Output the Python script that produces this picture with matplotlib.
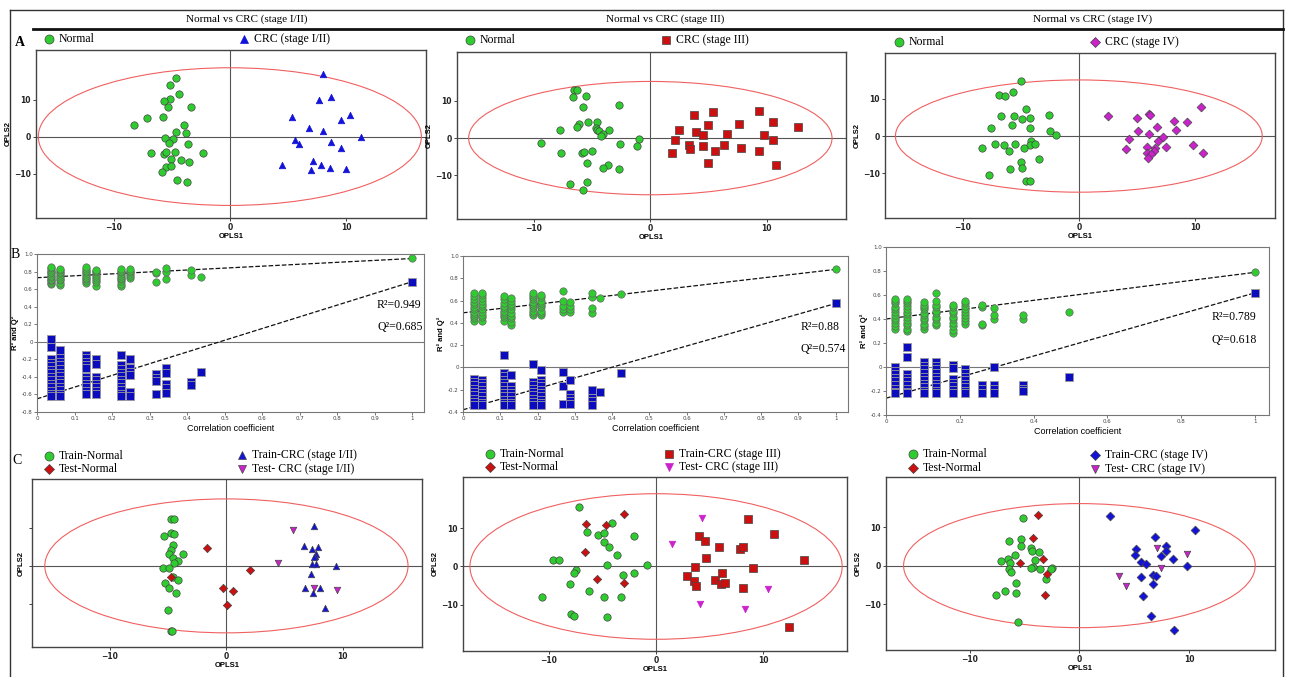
import numpy as np
import matplotlib.pyplot as plt
from matplotlib.patches import Ellipse
from matplotlib.lines import Line2D

W, H = 1291, 677

titles = ['Normal vs CRC (stage I/II)', 'Normal vs CRC (stage III)', 'Normal vs CRC (stage IV)']

# ---- A: OPLS-DA score plots (OPLS1, OPLS2) ----
a1_normal = np.array([[-4.6, 15.8], [-5.17, 14.0], [-4.37, 11.6], [-5.14, 10.2], [-5.66, 9.5], [-5.32, 8.0],
                      [-3.33, 8.0], [-7.10, 5.1], [-5.75, 5.4], [-8.25, 3.2], [-3.97, 3.2], [-4.68, 1.2],
                      [-3.82, 0.9], [-5.60, -0.3], [-4.94, -0.6], [-5.23, -1.6], [-3.62, -2.1], [-6.75, -4.4],
                      [-5.66, -4.6], [-5.46, -4.2], [-4.74, -4.1], [-2.30, -4.4], [-5.09, -6.1], [-4.17, -6.3],
                      [-3.56, -6.8], [-5.52, -8.2], [-5.11, -8.0], [-5.83, -9.6], [-4.57, -11.6], [-3.71, -12.3]])
a1_crc = np.array([[8.05, 16.8], [7.70, 9.9], [8.71, 10.8], [5.37, 5.4], [10.34, 5.8], [9.60, 4.5], [6.78, 2.4],
                   [7.99, 1.5], [11.26, 0.0], [5.60, -0.9], [5.95, -2.0], [8.68, -1.5], [9.54, -3.2], [7.18, -6.5],
                   [7.84, -7.6], [4.48, -7.8], [6.98, -9.1], [8.62, -8.6], [9.97, -8.7]])

a2_normal = np.array([[-6.57, 12.9], [-6.26, 12.8], [-6.63, 11.1], [-5.54, 11.4], [-5.80, 8.4], [-2.71, 8.9],
                      [-5.34, 4.3], [-4.54, 4.3], [-6.11, 3.7], [-6.29, 3.1], [-7.74, 2.2], [-4.69, 2.6],
                      [-4.57, 2.1], [-4.40, 1.8], [-4.06, 1.0], [-4.26, 0.5], [-3.57, 2.2], [-9.43, -1.4],
                      [-1.00, -0.3], [-1.17, -2.1], [-2.57, -1.7], [-7.66, -3.9], [-5.91, -4.1], [-5.69, -3.6],
                      [-5.00, -3.5], [-5.46, -6.6], [-3.63, -7.1], [-4.06, -8.0], [-2.71, -8.3], [-6.94, -12.4],
                      [-5.46, -11.9], [-5.80, -14.0]])
a2_crc = np.array([[3.71, 6.3], [5.37, 7.0], [9.29, 7.4], [2.43, 2.3], [4.91, 3.5], [7.60, 3.8], [10.49, 4.2],
                   [12.66, 2.9], [3.91, 1.7], [4.49, 0.8], [6.60, 1.1], [9.74, 0.8], [2.09, -0.4], [10.57, -0.4],
                   [3.31, -1.9], [3.43, -2.9], [4.54, -2.2], [6.31, -1.9], [7.77, -2.6], [5.57, -3.5],
                   [9.29, -3.4], [1.83, -3.9], [4.97, -6.7], [10.80, -7.3]])

a3_normal = np.array([[-4.97, 14.6], [-5.63, 11.8], [-6.84, 11.1], [-6.32, 10.8], [-4.57, 7.1], [-6.72, 5.4],
                      [-5.57, 5.3], [-4.94, 4.6], [-4.22, 4.9], [-2.56, 5.5], [-5.75, 2.9], [-7.61, 2.1],
                      [-4.22, 2.2], [-2.47, 1.4], [-1.93, 0.4], [-4.14, -1.2], [-7.24, -2.1], [-6.41, -2.5],
                      [-5.46, -2.2], [-4.22, -2.5], [-3.82, -2.2], [-8.36, -3.2], [-4.74, -3.3], [-5.98, -3.9],
                      [-3.45, -6.0], [-4.97, -7.0], [-5.89, -8.7], [-4.94, -8.5], [-7.73, -10.5], [-4.51, -12.0],
                      [-4.17, -12.0]])
a3_crc = np.array([[2.53, 5.4], [10.49, 7.8], [6.01, 6.0], [6.12, 5.7], [4.97, 4.8], [9.28, 3.8], [8.22, 3.9],
                   [6.70, 2.3], [5.08, 1.3], [8.33, 1.6], [6.03, 0.6], [7.21, -0.2], [4.28, -0.9], [6.81, -1.4],
                   [4.05, -3.4], [5.83, -2.9], [7.53, -2.9], [6.55, -3.2], [9.80, -2.3], [6.47, -3.9],
                   [5.83, -4.6], [6.21, -4.8], [10.72, -4.4], [5.92, -5.8]])

# ---- B: permutation tests ----
b1_x = [0.036, 0.060, 0.130, 0.156, 0.223, 0.249, 0.317, 0.343, 0.411, 0.437]
b1_r2 = [[0.66, 0.67, 0.69, 0.70, 0.72, 0.74, 0.75, 0.77, 0.79, 0.80, 0.82, 0.84, 0.85],
         [0.65, 0.67, 0.70, 0.72, 0.74, 0.76, 0.78, 0.80, 0.82, 0.83],
         [0.67, 0.69, 0.71, 0.73, 0.75, 0.77, 0.79, 0.81, 0.83, 0.85],
         [0.63, 0.68, 0.70, 0.73, 0.75, 0.77, 0.79, 0.81, 0.82],
         [0.63, 0.66, 0.69, 0.71, 0.73, 0.75, 0.77, 0.79, 0.81, 0.83],
         [0.73, 0.75, 0.77, 0.79, 0.81, 0.83],
         [0.68, 0.78, 0.79], [0.71, 0.80, 0.84], [0.76, 0.82], [0.74]]
b1_q2 = [[0.03, -0.06, -0.20, -0.24, -0.28, -0.32, -0.36, -0.40, -0.44, -0.48, -0.52, -0.56, -0.60, -0.62],
         [-0.09, -0.19, -0.23, -0.27, -0.31, -0.35, -0.39, -0.43, -0.47, -0.51, -0.55, -0.59, -0.62],
         [-0.15, -0.19, -0.23, -0.27, -0.30, -0.40, -0.44, -0.48, -0.52, -0.56, -0.60],
         [-0.20, -0.25, -0.40, -0.44, -0.48, -0.52, -0.56, -0.60],
         [-0.15, -0.27, -0.31, -0.35, -0.39, -0.43, -0.47, -0.51, -0.55, -0.59, -0.62],
         [-0.20, -0.30, -0.34, -0.38, -0.57, -0.62],
         [-0.37, -0.41, -0.45, -0.60], [-0.30, -0.35, -0.48, -0.53, -0.58], [-0.46, -0.49], [-0.34]]
b1_r2_line = [0.73, 0.949]
b1_q2_line = [-0.65, 0.685]

b2_x = [0.030, 0.050, 0.109, 0.129, 0.188, 0.209, 0.268, 0.288, 0.347, 0.367, 0.425]
b2_r2 = [[0.42, 0.44, 0.46, 0.48, 0.50, 0.52, 0.54, 0.57, 0.59, 0.61, 0.64, 0.67],
         [0.42, 0.45, 0.47, 0.50, 0.52, 0.55, 0.57, 0.60, 0.62, 0.65, 0.67],
         [0.42, 0.45, 0.47, 0.49, 0.51, 0.53, 0.55, 0.58, 0.61, 0.64],
         [0.38, 0.41, 0.44, 0.46, 0.49, 0.52, 0.55, 0.57, 0.60, 0.62],
         [0.47, 0.49, 0.51, 0.53, 0.55, 0.57, 0.59, 0.61, 0.63, 0.65, 0.67],
         [0.47, 0.49, 0.51, 0.54, 0.56, 0.58, 0.60, 0.63, 0.65],
         [0.50, 0.52, 0.55, 0.60, 0.69], [0.50, 0.52, 0.55, 0.59], [0.49, 0.53, 0.63, 0.67], [0.62], [0.66]]
b2_q2 = [[-0.10, -0.13, -0.16, -0.19, -0.22, -0.25, -0.28, -0.31, -0.34],
         [-0.11, -0.14, -0.17, -0.20, -0.23, -0.26, -0.29, -0.32, -0.34],
         [0.11, -0.05, -0.08, -0.11, -0.14, -0.17, -0.20, -0.23, -0.26, -0.29, -0.32, -0.34],
         [-0.07, -0.17, -0.20, -0.23, -0.26, -0.29, -0.32, -0.34],
         [0.03, -0.13, -0.16, -0.19, -0.22, -0.25, -0.28, -0.31, -0.34],
         [-0.02, -0.11, -0.14, -0.17, -0.20, -0.23, -0.26, -0.29, -0.32, -0.34],
         [-0.04, -0.17, -0.33], [-0.11, -0.24, -0.27, -0.30, -0.33], [-0.20, -0.27, -0.30, -0.34], [-0.22], [-0.05]]
b2_r2_line = [0.49, 0.88]
b2_q2_line = [-0.38, 0.574]

b3_x = [0.024, 0.056, 0.103, 0.135, 0.182, 0.215, 0.261, 0.293, 0.371, 0.496]
b3_r2 = [[0.32, 0.34, 0.37, 0.39, 0.41, 0.43, 0.46, 0.48, 0.50, 0.53, 0.55, 0.57],
         [0.30, 0.32, 0.35, 0.37, 0.39, 0.42, 0.44, 0.46, 0.48, 0.51, 0.53, 0.55, 0.57],
         [0.32, 0.34, 0.36, 0.39, 0.41, 0.43, 0.45, 0.48, 0.50, 0.52, 0.54],
         [0.35, 0.37, 0.40, 0.42, 0.45, 0.47, 0.50, 0.52, 0.55, 0.62],
         [0.28, 0.31, 0.34, 0.37, 0.40, 0.42, 0.45, 0.47, 0.50, 0.52],
         [0.36, 0.38, 0.41, 0.43, 0.46, 0.48, 0.51, 0.53, 0.55],
         [0.35, 0.36, 0.50, 0.52], [0.40, 0.43, 0.49], [0.40, 0.43], [0.46]]
b3_q2 = [[0.00, -0.03, -0.06, -0.09, -0.12, -0.15, -0.18, -0.21, -0.22],
         [0.17, 0.08, -0.06, -0.09, -0.12, -0.15, -0.18, -0.21, -0.22],
         [0.04, 0.01, -0.02, -0.05, -0.08, -0.11, -0.14, -0.17, -0.20, -0.22],
         [0.04, 0.01, -0.02, -0.05, -0.08, -0.11, -0.14, -0.17, -0.20, -0.22],
         [0.02, -0.01, -0.10, -0.13, -0.16, -0.19, -0.22],
         [-0.02, -0.05, -0.08, -0.11, -0.14, -0.17, -0.20, -0.22],
         [-0.15, -0.18, -0.22], [0.00, -0.15, -0.18, -0.22], [-0.15, -0.18, -0.20], [-0.08]]
b3_r2_line = [0.40, 0.789]
b3_q2_line = [-0.26, 0.618]

# ---- C: training / test set predictions ----
c1_train_normal = np.array([[-4.77, 12.3], [-4.51, 12.3], [-4.77, 8.5], [-4.51, 8.2], [-5.34, 7.9], [-4.57, 5.4],
                            [-4.80, 4.1], [-4.97, 3.0], [-3.71, 3.1], [-4.63, 2.1], [-4.20, 1.3], [-4.49, 0.8],
                            [-5.43, -0.5], [-4.97, -0.6], [-4.57, -3.0], [-4.20, -3.7], [-5.29, -4.4],
                            [-4.89, -5.7], [-4.29, -7.0], [-5.00, -11.6], [-4.80, -16.9], [-4.69, -16.9]])
c1_test_normal = np.array([[-1.71, 4.8], [-4.80, -2.9], [2.06, -1.2], [-0.29, -5.7], [0.57, -6.6], [0.06, -10.3]])
c1_train_crc = np.array([[7.54, 10.4], [6.63, 5.2], [7.31, 4.3], [7.86, 4.9], [7.71, 3.1], [7.60, 2.5], [7.49, 2.3],
                         [7.34, 0.6], [7.71, 0.6], [9.37, 0.0], [7.26, -2.2], [6.74, -5.9], [8.06, -5.7],
                         [7.40, -7.0], [8.43, -10.9]])
c1_test_crc = np.array([[5.69, 9.4], [4.40, 0.8], [7.54, -5.8], [9.51, -6.3]])

c2_train_normal = np.array([[-7.14, 15.4], [-4.07, 11.4], [-6.43, 9.1], [-5.43, 8.3], [-4.81, 8.7], [-4.81, 6.4],
                            [-4.38, 5.0], [-2.02, 8.0], [-3.60, 2.9], [-9.57, 1.7], [-9.07, 1.8], [-0.81, 0.5],
                            [-4.53, 0.3], [-7.45, -0.8], [-7.61, -1.6], [-3.11, -2.3], [-2.08, -1.8],
                            [-8.01, -4.5], [-6.27, -6.5], [-10.65, -7.9], [-4.81, -8.0], [-3.23, -8.0],
                            [-7.92, -12.3], [-7.61, -13.0], [-4.53, -13.1]])
c2_test_normal = np.array([[-2.95, 13.7], [-6.55, 11.0], [-4.66, 10.7], [-6.58, 3.7], [-5.53, -3.2], [-3.01, -4.2]])
c2_train_crc = np.array([[8.60, 12.3], [10.96, 8.5], [4.01, 7.9], [4.60, 6.7], [5.84, 5.0], [7.80, 4.5], [8.14, 5.0],
                         [4.66, 2.3], [13.82, 1.8], [3.60, -0.2], [9.00, -0.3], [2.86, -2.5], [6.15, -1.8],
                         [3.51, -3.7], [3.70, -5.0], [5.50, -3.6], [6.09, -4.6], [6.40, -4.3], [8.07, -5.5],
                         [12.39, -15.7]])
c2_test_crc = np.array([[4.32, 12.6], [1.49, 5.8], [10.47, -5.8], [4.10, -9.8], [8.29, -11.0]])

c3_train_normal = np.array([[-5.12, 12.3], [-5.30, 7.0], [-6.42, 6.3], [-5.36, 5.0], [-4.36, 4.6], [-4.27, 3.9],
                            [-3.67, 3.5], [-5.88, 2.8], [-6.52, 1.8], [-7.09, 1.1], [-4.03, 1.5], [-6.33, 0.7],
                            [-4.18, -0.3], [-4.42, -0.7], [-3.55, -1.0], [-2.52, -0.5], [-2.61, -0.8],
                            [-6.39, -1.0], [-6.24, -1.7], [-3.00, -3.5], [-5.79, -4.6], [-6.79, -6.5],
                            [-5.79, -7.0], [-7.55, -7.7], [-5.61, -14.6]])
c3_test_normal = np.array([[-3.76, 13.1], [-4.18, 7.2], [-3.33, 1.8], [-5.39, 0.7], [-2.91, -2.2], [-3.15, -7.5]])
c3_train_crc = np.array([[2.79, 13.0], [10.52, 9.3], [6.85, 7.4], [7.85, 5.2], [7.88, 3.9], [5.15, 4.3], [5.03, 2.8],
                         [7.45, 2.4], [8.52, 1.6], [5.64, 1.0], [6.06, 0.3], [9.79, 0.0], [5.58, -3.0],
                         [6.67, -2.4], [6.97, -2.6], [6.73, -4.8], [5.76, -7.9], [6.55, -13.0], [8.58, -16.8]])
c3_test_crc = np.array([[7.03, 4.6], [9.76, 3.0], [7.45, -0.6], [3.64, -2.8], [4.24, -5.4]])

GREEN = '#2ecc2e'
BLUE = '#1212d8'
RED = '#cc1010'
MAGENTA = '#cc22cc'
SERIF = 'Liberation Serif'
SANS = 'Liberation Sans'

fig = plt.figure(figsize=(W / 100, H / 100), dpi=100)
fig.patch.set_facecolor('white')


def rect(l, t, r, b):
    return [l / W, 1 - b / H, (r - l) / W, (b - t) / H]


def fline(x0, y0, x1, y1, lw=1.0, color='#333333'):
    fig.add_artist(Line2D([x0 / W, x1 / W], [1 - y0 / H, 1 - y1 / H], transform=fig.transFigure,
                          color=color, lw=lw))


def fmark(x, y, marker, color, label, size=6.5, edge='#444444'):
    fig.add_artist(Line2D([x / W], [1 - y / H], transform=fig.transFigure, marker=marker, ms=size,
                          mfc=color, mec=edge, mew=0.5, ls='none'))
    fig.text((x + 10) / W, 1 - y / H, label, fontsize=8.5, family=SERIF, va='center', ha='left')


def score_axes(box, xlim, ylim, ell, ylabels=True):
    ax = fig.add_axes(rect(*box))
    ax.set_xlim(xlim)
    ax.set_ylim(ylim)
    ax.axhline(0, color='#555555', lw=0.8, zorder=1)
    ax.axvline(0, color='#555555', lw=0.8, zorder=1)
    ax.add_patch(Ellipse((0, 0), 2 * ell[0], 2 * ell[1], fill=False, ec='#f06060', lw=0.8, zorder=1.5))
    ax.set_xticks([-10, 0, 10])
    ax.set_yticks([-10, 0, 10])
    if not ylabels:
        ax.set_yticklabels([])
    ax.tick_params(labelsize=5.5, length=2, width=0.6, pad=1.5, colors='#222222')
    for lab in ax.get_xticklabels() + ax.get_yticklabels():
        lab.set_fontweight('bold')
    for s in ax.spines.values():
        s.set_color('#444444')
        s.set_linewidth(1.0)
    ax.set_xlabel('OPLS1', fontsize=5.5, fontweight='bold', family=SANS, labelpad=1)
    ax.set_ylabel('OPLS2', fontsize=5.5, fontweight='bold', family=SANS, labelpad=2)
    return ax


def scat(ax, pts, marker, color, size=28, edge='#444444'):
    ax.scatter(pts[:, 0], pts[:, 1], marker=marker, s=size, c=color, edgecolors=edge, linewidths=0.5, zorder=3)


def perm_axes(box, xmax, xs, r2, q2, r2_line, q2_line, ylim, xticks, txt_pos, label_txt):
    ax = fig.add_axes(rect(*box))
    ax.set_xlim(0, xmax)
    ax.set_ylim(ylim)
    ax.axhline(0, color='#777777', lw=0.8, zorder=1)
    ax.plot([0, 1], r2_line, ls='--', color='#111111', lw=0.9, zorder=2)
    ax.plot([0, 1], q2_line, ls='--', color='#111111', lw=0.9, zorder=2)
    gx = np.concatenate([[x] * len(v) for x, v in zip(xs, r2)] + [[1.0]])
    gy = np.concatenate([np.array(v, float) for v in r2] + [[r2_line[1]]])
    bx = np.concatenate([[x] * len(v) for x, v in zip(xs, q2)] + [[1.0]])
    by = np.concatenate([np.array(v, float) for v in q2] + [[q2_line[1]]])
    ax.scatter(bx, by, marker='s', s=27, c='#0b0bc0', edgecolors='#9a9a9a', linewidths=0.6, zorder=3)
    ax.scatter(gx, gy, marker='o', s=28, c=GREEN, edgecolors='#666666', linewidths=0.5, zorder=3)
    ax.set_xticks(xticks)
    ax.set_xticklabels(['0' if t == 0 else ('1' if t == 1 else f'{t:.1f}') for t in xticks])
    yt = np.round(np.arange(ylim[0], ylim[1] + 0.001, 0.2), 1)
    ax.set_yticks(yt)
    ax.set_yticklabels(['0' if t == 0 else f'{t:.1f}' for t in yt])
    ax.tick_params(labelsize=4, length=2, width=0.5, pad=1, colors='#444444')
    for s in ax.spines.values():
        s.set_color('#777777')
        s.set_linewidth(0.8)
    ax.set_xlabel('Correlation coefficient', fontsize=6.5, family=SANS, labelpad=2)
    ax.set_ylabel('R² and Q²', fontsize=5.5, fontweight='bold', family=SANS, labelpad=2)
    ax.text(txt_pos[0], txt_pos[1], f'R²={label_txt[0]}', fontsize=8.5, family=SERIF, ha='left', va='center')
    ax.text(txt_pos[0], txt_pos[2], f'Q²={label_txt[1]}', fontsize=8.5, family=SERIF, ha='left', va='center')
    return ax


# frame, header
fline(10, 10, 1283, 10, lw=1.0)
fline(10, 10, 10, 677, lw=1.0)
fline(1283, 10, 1283, 677, lw=1.0)
fline(33, 29, 1283, 29, lw=2.0, color='#111111')
for cx, t in zip([247, 665, 1093], titles):
    fig.text(cx / W, 1 - 19 / H, t, fontsize=8, family=SERIF, ha='center', va='center')
fig.text(20 / W, 1 - 43 / H, 'A', fontsize=10, family=SERIF, fontweight='bold', ha='center', va='center')
fig.text(15 / W, 1 - 254 / H, 'B', fontsize=10, family=SERIF, ha='center', va='center')
fig.text(17 / W, 1 - 460 / H, 'C', fontsize=10, family=SERIF, ha='center', va='center')

# A row
ax = score_axes((36, 50, 426, 218), (-16.7, 16.9), (-22, 23.4), (16.5, 18.6))
scat(ax, a1_normal, 'o', GREEN)
scat(ax, a1_crc, '^', BLUE, 22, edge=BLUE)
fmark(49, 39, 'o', GREEN, 'Normal')
fmark(244, 39, '^', BLUE, 'CRC (stage I/II)', size=6, edge=BLUE)

ax = score_axes((457, 52, 846, 219), (-16.6, 16.8), (-21.7, 23.1), (15.6, 15.2))
scat(ax, a2_normal, 'o', GREEN)
scat(ax, a2_crc, 's', RED, 26)
fmark(470, 40, 'o', GREEN, 'Normal')
fmark(666, 40, 's', RED, 'CRC (stage III)', size=6)

ax = score_axes((885, 53, 1275, 218), (-16.7, 16.9), (-21.9, 22.2), (15.8, 15.0))
scat(ax, a3_normal, 'o', GREEN)
scat(ax, a3_crc, 'D', MAGENTA, 20)
fmark(899, 42, 'o', GREEN, 'Normal')
fmark(1095, 42, 'D', MAGENTA, 'CRC (stage IV)', size=5.5)

# B row
perm_axes((37, 254, 424, 412), 1.031, b1_x, b1_r2, b1_q2, b1_r2_line, b1_q2_line, (-0.8, 1.0),
          [0, 0.1, 0.2, 0.3, 0.4, 0.5, 0.6, 0.7, 0.8, 0.9, 1.0], (0.906, 0.42, 0.165), ('0.949', '0.685'))
perm_axes((463, 256, 848, 412), 1.033, b2_x, b2_r2, b2_q2, b2_r2_line, b2_q2_line, (-0.4, 1.0),
          [0, 0.1, 0.2, 0.3, 0.4, 0.5, 0.6, 0.7, 0.8, 0.9, 1.0], (0.906, 0.367, 0.167), ('0.88', '0.574'))
perm_axes((886, 247, 1269, 415), 1.038, b3_x, b3_r2, b3_q2, b3_r2_line, b3_q2_line, (-0.4, 1.0),
          [0, 0.2, 0.4, 0.6, 0.8, 1.0], (0.882, 0.418, 0.224), ('0.789', '0.618'))

# C row
ax = score_axes((32, 479, 422, 647), (-16.7, 16.8), (-21.2, 22.7), (15.6, 17.5), ylabels=False)
scat(ax, c1_train_normal, 'o', GREEN)
scat(ax, c1_test_normal, 'D', RED, 18)
scat(ax, c1_train_crc, '^', BLUE, 22)
scat(ax, c1_test_crc, 'v', MAGENTA, 22)
fmark(49, 456, 'o', GREEN, 'Train-Normal')
fmark(49, 469, 'D', RED, 'Test-Normal', size=5)
fmark(242, 455, '^', BLUE, 'Train-CRC (stage I/II)', size=6)
fmark(242, 469, 'v', MAGENTA, 'Test- CRC (stage I/II)', size=6)

ax = score_axes((463, 477, 847, 651), (-18.0, 17.8), (-22.0, 23.3), (17.35, 18.95))
scat(ax, c2_train_normal, 'o', GREEN)
scat(ax, c2_test_normal, 'D', RED, 18)
scat(ax, c2_train_crc, 's', RED, 26)
scat(ax, c2_test_crc, 'v', MAGENTA, 22, edge=MAGENTA)
fmark(490, 454, 'o', GREEN, 'Train-Normal')
fmark(490, 467, 'D', RED, 'Test-Normal', size=5)
fmark(669, 454, 's', RED, 'Train-CRC (stage III)', size=6)
fmark(669, 467, 'v', MAGENTA, 'Test- CRC (stage III)', size=6, edge=MAGENTA)

ax = score_axes((886, 477, 1275, 650), (-17.6, 17.8), (-21.9, 23.0), (16.0, 16.1))
scat(ax, c3_train_normal, 'o', GREEN)
scat(ax, c3_test_normal, 'D', RED, 18)
scat(ax, c3_train_crc, 'D', BLUE, 20)
scat(ax, c3_test_crc, 'v', MAGENTA, 22)
fmark(913, 454, 'o', GREEN, 'Train-Normal')
fmark(913, 468, 'D', RED, 'Test-Normal', size=5)
fmark(1095, 455, 'D', BLUE, 'Train-CRC (stage IV)', size=5.5)
fmark(1095, 469, 'v', MAGENTA, 'Test- CRC (stage IV)', size=6)

fig.savefig('out.png', dpi=100, facecolor='white')
